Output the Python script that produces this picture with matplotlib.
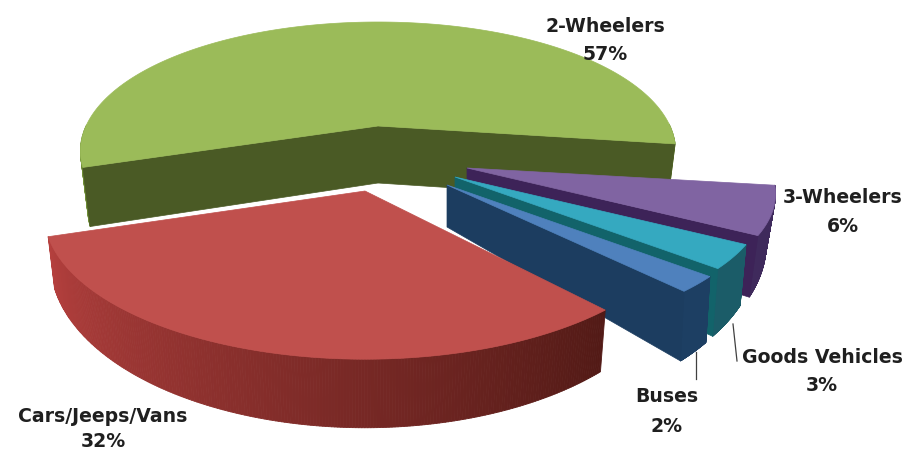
import numpy as np
import matplotlib
matplotlib.use("Agg")
import matplotlib.pyplot as plt
from matplotlib.patches import Polygon
from matplotlib.collections import PolyCollection
from matplotlib.colors import to_rgb

categories = ["2-Wheelers", "3-Wheelers", "Goods Vehicles", "Buses", "Cars/Jeeps/Vans"]
shares = [57, 6, 3, 2, 32]

START_ANGLE = 162.5
W, H = 910, 452

# projection and colour settings of each slice
styles = [
    dict(apex=(378, 127), a=292, b=130, p=0.2, d0=57, mx=0.975, my=1.05,
         top="#9bbb59", side=("#6f8f35", "#6f8f35"), cut="#4a5a25", faces=("start", "end")),
    dict(apex=(467, 169), a=302, b=125, p=0.214, d0=42, mx=0.97, my=1.29,
         top="#8064a2", side=("#3f2a5c", "#3f2a5c"), cut="#3d2358", faces=("end",)),
    dict(apex=(455, 178), a=302, b=125, p=0.214, d0=42, mx=0.98, my=1.28,
         top="#35a9c0", side=("#1b5c68", "#1b5c68"), cut="#12636a", faces=("end",)),
    dict(apex=(447, 186), a=302, b=125, p=0.214, d0=42, mx=0.985, my=1.26,
         top="#4f81bd", side=("#1d3f63", "#1d3f63"), cut="#1c3d60", faces=("end",)),
    dict(apex=(365, 192), a=317, b=145, p=0.16, d0=45, mx=0.98, my=1.14,
         top="#c0504d", side=("#521a16", "#b5403e"), cut="#7a2a28", faces=()),
]

labels_at = [(605, 26, 55), (843, 198, 227), (822, 358, 386), (667, 397, 427), (103, 417, 442)]
leaders = [((733, 325), (737, 362)), ((696, 353), (696, 380))]

fig = plt.figure(figsize=(W / 100, H / 100), dpi=100)
ax = fig.add_axes([0, 0, 1, 1])
ax.set_xlim(0, W)
ax.set_ylim(H, 0)
ax.axis("off")


def offs(st, t):
    s, c = np.sin(t), np.cos(t)
    w = 1 + st["p"] * s
    return st["a"] * c * w, st["b"] * s * w


def top_pt(st, t):
    dx, dy = offs(st, t)
    return np.c_[st["apex"][0] + dx, st["apex"][1] + dy]


def bot_pt(st, t):
    dx, dy = offs(st, t)
    return np.c_[st["apex"][0] + st["mx"] * dx, st["apex"][1] + st["d0"] + st["my"] * dy]


t_edge = np.radians(START_ANGLE)
for i, (val, st) in enumerate(zip(shares, styles)):
    span = np.radians(val / sum(shares) * 360)
    t1, t2 = t_edge, t_edge + span
    t_edge = t2
    ts = np.linspace(t1, t2, 241)
    ap = np.array(st["apex"], float)
    apb = ap + [0, st["d0"]]
    # outer wall, front-facing part only
    tf = ts[np.sin(ts) > -0.02]
    if len(tf) > 1:
        T, B = top_pt(st, tf), bot_pt(st, tf)
        keep = np.diff(tf) < 0.1
        quads = [[T[j], T[j + 1], B[j + 1], B[j]] for j in range(len(tf) - 1) if keep[j]]
        c0, c1 = np.array(to_rgb(st["side"][0])), np.array(to_rgb(st["side"][1]))
        f = (np.arange(len(quads)) + 0.5) / len(quads)
        cols = [tuple(c0 + (c1 - c0) * x) for x in f]
        ax.add_collection(PolyCollection(quads, facecolors=cols, edgecolors=cols, linewidths=0.6, zorder=2 * i + 1))
    # cut faces
    for face in st["faces"]:
        tt = np.array([t1 if face == "start" else t2])
        ax.add_patch(Polygon([ap, top_pt(st, tt)[0], bot_pt(st, tt)[0], apb],
                             closed=True, fc=st["cut"], ec=st["cut"], lw=0.5, zorder=2 * i + 1))
    # top surface
    ax.add_patch(Polygon(np.vstack([ap, top_pt(st, ts)]), closed=True, fc=st["top"],
                         ec=st["top"], lw=0.5, zorder=2 * i + 2))

for (p, q) in leaders:
    ax.plot([p[0], q[0]], [p[1], q[1]], color="#404040", lw=0.9, zorder=20)

for cat, val, (x, y1, y2) in zip(categories, shares, labels_at):
    for txt, y in ((cat, y1), (f"{val}%", y2)):
        ax.text(x, y, txt, ha="center", va="center", family="DejaVu Sans", weight="bold",
                fontsize=13.6, color="#1f1f1f", zorder=30)

fig.savefig("out.png", dpi=100, facecolor="white")
